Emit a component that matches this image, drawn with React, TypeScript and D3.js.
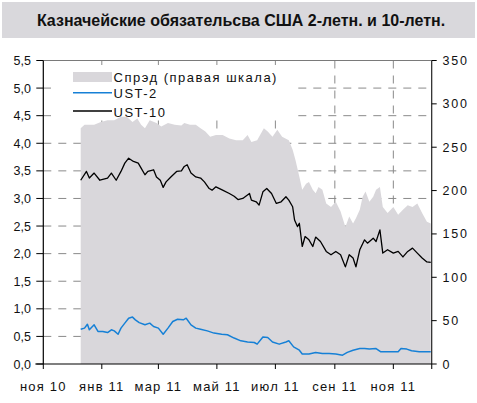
import React from "react";
import * as d3 from "d3";

const title = "Казначейские обязательсва США 2-летн. и 10-летн.";

const leftTicks = [0, 0.5, 1, 1.5, 2, 2.5, 3, 3.5, 4, 4.5, 5, 5.5];
const rightTicks = [0, 50, 100, 150, 200, 250, 300, 350];
const xTickDates = ["2010-11-01", "2011-01-01", "2011-03-01", "2011-05-01", "2011-07-01", "2011-09-01", "2011-11-01"];
const xTickLabels = ["ноя 10", "янв 11", "мар 11", "май 11", "июл 11", "сен 11", "ноя 11"];

const legendLabels = ["Спрэд (правая шкала)", "UST-2", "UST-10"];

// spread, bp (right axis)
const spreadDates = ["2010-12-10","2010-12-14","2010-12-24","2010-12-31","2011-01-07","2011-01-14","2011-01-21","2011-01-27","2011-02-02","2011-02-07","2011-02-11","2011-02-15","2011-02-20","2011-02-27","2011-03-04","2011-03-11","2011-03-18","2011-03-25","2011-03-28","2011-04-03","2011-04-09","2011-04-14","2011-04-19","2011-04-24","2011-04-30","2011-05-07","2011-05-14","2011-05-21","2011-05-28","2011-06-02","2011-06-06","2011-06-12","2011-06-19","2011-06-23","2011-06-28","2011-07-03","2011-07-08","2011-07-15","2011-07-19","2011-07-22","2011-07-26","2011-07-29","2011-08-02","2011-08-05","2011-08-09","2011-08-12","2011-08-15","2011-08-19","2011-08-23","2011-08-28","2011-09-02","2011-09-07","2011-09-12","2011-09-16","2011-09-20","2011-09-23","2011-09-27","2011-09-30","2011-10-03","2011-10-07","2011-10-11","2011-10-14","2011-10-18","2011-10-21","2011-10-26","2011-11-01","2011-11-06","2011-11-11","2011-11-16","2011-11-21","2011-11-26","2011-12-01","2011-12-06","2011-12-10"];
const spreadValues = [272,276,276,279,281,281,285,285,279,283,276,272,281,278,274,278,276,275,278,276,276,272,268,262,264,264,260,258,258,264,256,258,272,268,262,270,262,258,247,235,216,201,208,210,201,197,204,201,185,181,187,176,158,170,162,168,178,193,199,187,193,201,204,181,174,181,172,178,183,181,185,174,164,162];

// UST-2, % (left axis)
const ust2Dates = ["2010-12-10","2010-12-14","2010-12-17","2010-12-19","2010-12-24","2010-12-28","2011-01-02","2011-01-07","2011-01-11","2011-01-14","2011-01-18","2011-01-21","2011-01-25","2011-01-29","2011-02-02","2011-02-05","2011-02-09","2011-02-15","2011-02-20","2011-02-24","2011-03-01","2011-03-06","2011-03-11","2011-03-16","2011-03-21","2011-03-27","2011-03-30","2011-04-04","2011-04-09","2011-04-14","2011-04-21","2011-04-28","2011-05-06","2011-05-12","2011-05-19","2011-05-26","2011-06-02","2011-06-09","2011-06-12","2011-06-18","2011-06-23","2011-06-28","2011-07-05","2011-07-12","2011-07-15","2011-07-20","2011-07-26","2011-07-29","2011-08-05","2011-08-12","2011-08-19","2011-08-26","2011-09-02","2011-09-09","2011-09-14","2011-09-20","2011-09-27","2011-10-02","2011-10-07","2011-10-14","2011-10-19","2011-10-28","2011-11-06","2011-11-09","2011-11-15","2011-11-20","2011-11-28","2011-12-10"];
const ust2Values = [0.63,0.65,0.72,0.62,0.71,0.59,0.59,0.57,0.62,0.60,0.54,0.65,0.74,0.83,0.85,0.80,0.75,0.71,0.74,0.68,0.65,0.54,0.65,0.77,0.81,0.80,0.83,0.71,0.65,0.63,0.60,0.56,0.54,0.53,0.47,0.42,0.40,0.39,0.36,0.49,0.48,0.40,0.36,0.40,0.42,0.31,0.25,0.18,0.18,0.21,0.19,0.19,0.18,0.16,0.21,0.25,0.28,0.28,0.27,0.28,0.22,0.22,0.22,0.28,0.27,0.24,0.22,0.22];

// UST-10, % (left axis)
const ust10Dates = ["2010-12-10","2010-12-16","2010-12-19","2010-12-24","2010-12-30","2011-01-07","2011-01-11","2011-01-16","2011-01-21","2011-01-25","2011-01-29","2011-02-03","2011-02-08","2011-02-11","2011-02-15","2011-02-18","2011-02-24","2011-02-27","2011-03-03","2011-03-06","2011-03-09","2011-03-14","2011-03-20","2011-03-25","2011-03-28","2011-03-31","2011-04-04","2011-04-09","2011-04-14","2011-04-18","2011-04-23","2011-04-26","2011-04-30","2011-05-07","2011-05-14","2011-05-19","2011-05-23","2011-05-28","2011-06-04","2011-06-06","2011-06-11","2011-06-14","2011-06-18","2011-06-22","2011-06-27","2011-07-02","2011-07-07","2011-07-12","2011-07-15","2011-07-19","2011-07-21","2011-07-24","2011-07-26","2011-07-29","2011-08-01","2011-08-05","2011-08-09","2011-08-12","2011-08-17","2011-08-23","2011-08-28","2011-09-02","2011-09-07","2011-09-12","2011-09-16","2011-09-20","2011-09-23","2011-09-27","2011-10-02","2011-10-05","2011-10-11","2011-10-14","2011-10-18","2011-10-21","2011-10-26","2011-11-01","2011-11-06","2011-11-11","2011-11-16","2011-11-21","2011-11-26","2011-12-01","2011-12-06","2011-12-10"];
const ust10Values = [3.33,3.49,3.37,3.46,3.33,3.37,3.46,3.33,3.49,3.64,3.73,3.67,3.64,3.55,3.43,3.49,3.52,3.39,3.33,3.20,3.30,3.39,3.49,3.50,3.58,3.61,3.46,3.39,3.37,3.30,3.18,3.15,3.21,3.15,3.09,3.04,2.98,3.00,3.09,2.97,2.94,2.88,3.12,3.18,3.09,2.91,2.94,3.03,2.97,2.85,2.61,2.49,2.55,2.13,2.31,2.25,2.13,2.30,2.22,2.04,1.98,2.04,1.98,1.76,1.98,1.92,1.76,2.07,2.25,2.19,2.28,2.22,2.43,2.01,2.07,2.01,2.04,1.94,2.04,2.10,2.01,1.92,1.85,1.84];

const W = 477;
const H = 403;
const L = 43.3;
const R = 431.7;
const T = 60.5;
const B = 364;

const font = "'Liberation Sans', Arial, Helvetica, sans-serif";
const areaFill = "#d9d7db";
const blue = "#1680d6";

type P = { d: Date; v: number };
const parse = d3.timeParse("%Y-%m-%d");
const zip = (ds: string[], vs: number[]): P[] => ds.map((s, i) => ({ d: parse(s) as Date, v: vs[i] }));

export default function App() {
  const x = d3.scaleTime().domain([new Date(2010, 10, 1), new Date(2011, 11, 11)]).range([L, R]);
  const yL = d3.scaleLinear().domain([0, 5.5]).range([B, T]);
  const yR = d3.scaleLinear().domain([0, 350]).range([B, T]);

  const spread = zip(spreadDates, spreadValues);
  const u2 = zip(ust2Dates, ust2Values);
  const u10 = zip(ust10Dates, ust10Values);

  const area = d3.area<P>().x((p) => x(p.d)).y0(yR(0)).y1((p) => yR(p.v));
  const lineL = d3.line<P>().x((p) => x(p.d)).y((p) => yL(p.v));

  const xTicks = xTickDates.map((s) => parse(s) as Date);
  const grid = "#8a8a8a";
  const dash = "8,7";

  return (
    <svg width={W} height={H} style={{ position: "absolute", left: 0, top: 0, background: "#fff" }} fontFamily={font}>
      <rect x={0} y={0} width={W} height={H} fill="#fff" />
      <rect x={2} y={2} width={473} height={36} fill="#d9d8dc" />
      <text x={241} y={26} textAnchor="middle" fontSize={16} fontWeight="bold" fill="#111">{title}</text>

      {/* gridlines */}
      {leftTicks.filter((t) => t > 0 && t < 5.5).map((t) => (
        <line key={"h" + t} x1={L} x2={R} y1={yL(t)} y2={yL(t)} stroke={grid} strokeDasharray={dash} strokeWidth={1} />
      ))}
      {xTicks.slice(1).map((d, i) => (
        <line key={"v" + i} x1={x(d)} x2={x(d)} y1={T} y2={B} stroke={grid} strokeDasharray={dash} strokeWidth={1} />
      ))}

      {/* legend box */}
      <rect x={51} y={65} width={241} height={53} fill="#fff" />

      {/* spread area */}
      <path d={area(spread) || ""} fill={areaFill} />

      {/* lines */}
      <path d={lineL(u2) || ""} fill="none" stroke={blue} strokeWidth={1.5} strokeLinejoin="round" />
      <path d={lineL(u10) || ""} fill="none" stroke="#000" strokeWidth={1.3} strokeLinejoin="round" />

      {/* frame */}
      <line x1={L} x2={R} y1={T} y2={T} stroke="#7a7a7a" strokeWidth={1} />
      <line x1={L} x2={L} y1={T} y2={B} stroke="#000" strokeWidth={1.2} />
      <line x1={R} x2={R} y1={T} y2={B + 5} stroke="#222" strokeWidth={1.2} />
      <line x1={L - 8} x2={R} y1={B} y2={B} stroke="#000" strokeWidth={1.2} />

      {/* left axis */}
      {leftTicks.map((t) => (
        <g key={"l" + t}>
          <line x1={L - 7} x2={L} y1={yL(t)} y2={yL(t)} stroke="#000" />
          <text x={31} y={yL(t) + 4.5} textAnchor="end" fontSize={12.5} fill="#111">{d3.format(".1f")(t).replace(".", ",")}</text>
        </g>
      ))}

      {/* right axis */}
      {rightTicks.map((t) => (
        <g key={"r" + t}>
          <line x1={R} x2={R + 5} y1={yR(t)} y2={yR(t)} stroke="#000" />
          <text x={442.5} y={yR(t) + 4.5} fontSize={12.5} letterSpacing={1.8} fill="#111">{t}</text>
        </g>
      ))}

      {/* x axis */}
      {xTicks.map((d, i) => (
        <g key={"x" + i}>
          <line x1={x(d)} x2={x(d)} y1={B} y2={B + 5} stroke="#000" />
          <text x={x(d)} y={B + 27} textAnchor="middle" fontSize={13} letterSpacing={1.2} fill="#111">{xTickLabels[i]}</text>
        </g>
      ))}

      {/* legend */}
      <rect x={73} y={72} width={39} height={10} fill={areaFill} />
      <text x={113.5} y={82} fontSize={13} letterSpacing={1.5} fill="#111">{legendLabels[0]}</text>
      <line x1={73} x2={112} y1={92.7} y2={92.7} stroke={blue} strokeWidth={1.5} />
      <text x={113.5} y={98} fontSize={13} letterSpacing={1.5} fill="#111">{legendLabels[1]}</text>
      <line x1={73} x2={112} y1={111} y2={111} stroke="#000" strokeWidth={1.3} />
      <text x={113.5} y={116.5} fontSize={13} letterSpacing={1.5} fill="#111">{legendLabels[2]}</text>
    </svg>
  );
}
